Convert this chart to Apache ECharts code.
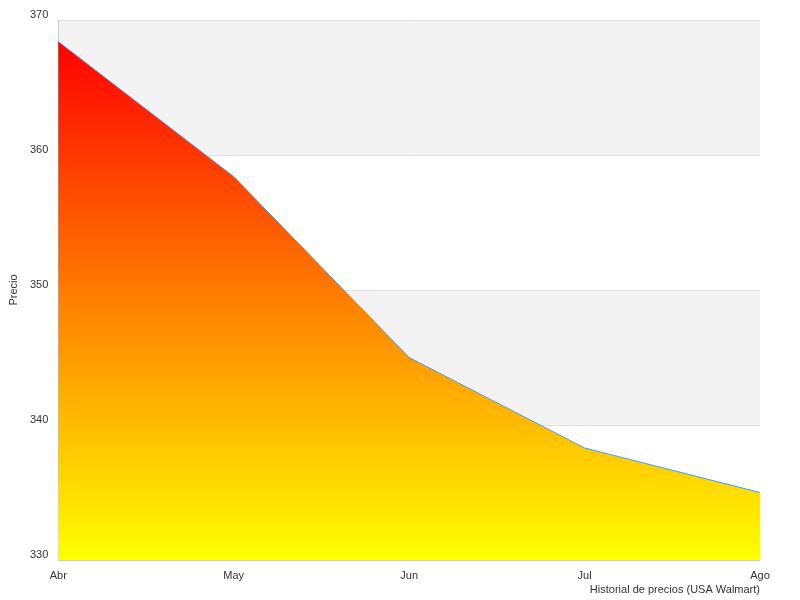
<!DOCTYPE html>
<html><head><meta charset="utf-8">
<script src="https://cdn.jsdelivr.net/npm/echarts@6/dist/echarts.min.js"></script>
<style>html,body{margin:0;padding:0}#c{width:800px;height:600px}</style></head>
<body><div id="c"></div>
<script>
const categories = ['Abr','May','Jun','Jul','Ago'];
const prices = [368.4, 358.4, 345.0, 338.3, 335.0];
const yTicks = [330, 340, 350, 360, 370];
const chart = echarts.init(document.getElementById('c'));
chart.setOption({
  animation:false,
  grid:{left:40,right:40,top:20,bottom:40},
  xAxis:{type:'category',data:categories,boundaryGap:false,
    name:'Historial de precios (USA Walmart)',nameLocation:'end',nameGap:0,
    nameTextStyle:{color:'#333',fontSize:11,align:'right',verticalAlign:'top',padding:[24,0,0,0]},
    axisLine:{lineStyle:{color:'#ccc'}},axisTick:{show:false},
    axisLabel:{color:'#333',fontSize:11,margin:10},splitLine:{show:false}},
  yAxis:{type:'value',min:yTicks[0],max:yTicks[yTicks.length-1],interval:10,
    name:'Precio',nameLocation:'middle',nameGap:30,nameTextStyle:{color:'#333',fontSize:11},
    axisLine:{show:true,lineStyle:{color:'#ccc'}},axisTick:{show:false},
    axisLabel:{color:'#333',fontSize:11,align:'right',verticalAlign:'bottom',margin:10},
    splitLine:{lineStyle:{color:'#e0e0e0'}},
    splitArea:{show:true,areaStyle:{color:['#ffffff','#f3f3f3']}}},
  series:[{type:'line',data:prices,symbol:'none',
    lineStyle:{color:'#4a9fe0',width:1},
    areaStyle:{opacity:1,color:new echarts.graphic.LinearGradient(0,0,0,1,[{offset:0,color:'#ff0000'},{offset:1,color:'#ffff00'}])}}]
});
</script></body></html>
